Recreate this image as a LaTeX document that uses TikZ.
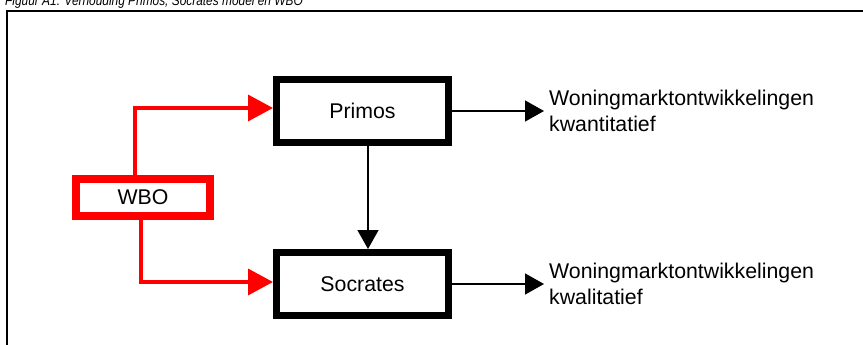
\documentclass[tikz,border=0pt]{standalone}
\usepackage{fontspec}
\setmainfont{Liberation Sans}
\newfontfamily\captionfont[FakeStretch=0.85]{Liberation Sans}
\usetikzlibrary{positioning,arrows.meta}
\tikzset{
	model/.style={draw=black,line width=7pt,minimum width=172pt,minimum height=63pt,font=\fontsize{21.3}{26}\selectfont},
	wbobox/.style={draw=red,line width=8pt,minimum width=134pt,minimum height=37pt,font=\fontsize{21.3}{26}\selectfont},
	output/.style={align=left,inner sep=5pt,font=\fontsize{21.3}{26}\selectfont},
	redarrow/.style={draw=red,line width=3.5pt,-{Triangle[length=25pt,width=26pt]}},
	blackarrow/.style={line width=1.5pt,-{Triangle[length=19pt,width=21pt]}}
}
\begin{document}
\begin{tikzpicture}[x=1pt,y=-1pt]
		\useasboundingbox (0,0) rectangle (863,345);
		\node[anchor=base west,inner sep=0pt,font=\captionfont\fontsize{14}{16}\selectfont\itshape] (title) at (5,5.5) {Figuur A1: Verhouding Primos, Socrates model en WBO};
		\draw[line width=2pt] (6.7,11) rectangle (880,360);
		\node[model] (primos) at (362.5,111) {Primos};
		\node[model] (socrates) [below=103pt of primos] {Socrates};
		\node[wbobox] (wbo) at (143,197.5) {WBO};
		\node[output] (kwant) [right=92pt of primos] {Woningmarktontwikkelingen\\kwantitatief};
		\node[output] (kwal) [right=92pt of socrates] {Woningmarktontwikkelingen\\kwalitatief};
		% WBO feeds both models
		\draw[redarrow] ([xshift=-8pt]wbo.north) |- ([yshift=3pt]primos.west);
		\draw[redarrow] ([xshift=-2pt]wbo.south) |- ([yshift=2pt]socrates.west);
		\draw[blackarrow] ([xshift=5.5pt]primos.south) -- ([xshift=5.5pt]socrates.north);
		\draw[blackarrow] (primos.east) -- (kwant.west);
		\draw[blackarrow] (socrates.east) -- (kwal.west);
\end{tikzpicture}
\end{document}
